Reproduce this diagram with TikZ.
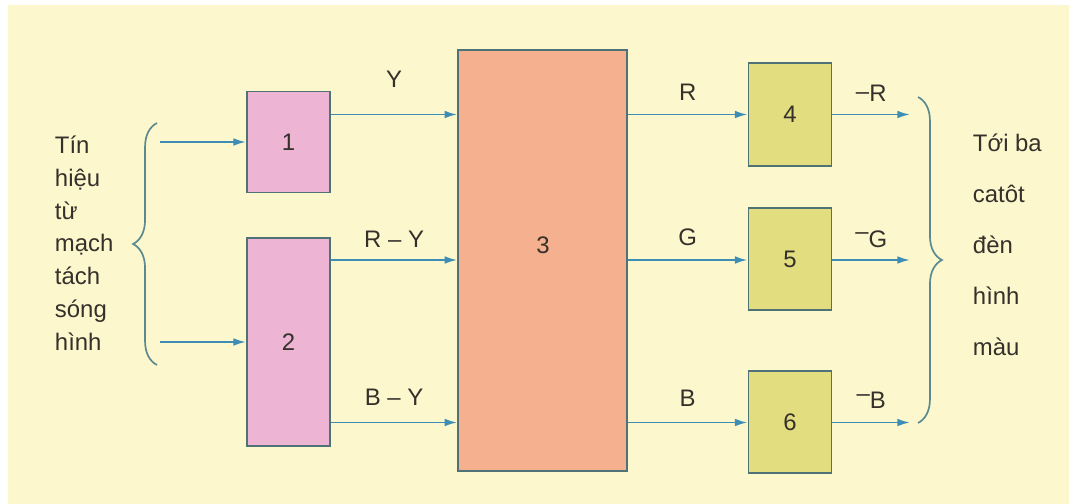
\documentclass[tikz,border=0pt]{standalone}
\usepackage{fontspec}
\setmainfont{Liberation Sans}
\usepackage{tikz}
\usetikzlibrary{arrows.meta}
\usetikzlibrary{decorations,decorations.pathreplacing}
\definecolor{creamback}{HTML}{FDF7CE}
\definecolor{pinkfill}{HTML}{EDB4D3}
\definecolor{salmonfill}{HTML}{F5B08F}
\definecolor{olivefill}{HTML}{E2DD7E}
\definecolor{wirecol}{HTML}{3D8DB5}
\definecolor{blockline}{HTML}{4F7276}
\definecolor{bracecol}{HTML}{5A8A90}
\definecolor{inkcol}{HTML}{35302A}
\tikzstyle{block}=[draw=blockline,line width=1.2pt,inner sep=0pt,minimum width=2.08cm]
\tikzstyle{inputshading}=[fill=pinkfill]
\tikzstyle{matrixshading}=[fill=salmonfill]
\tikzstyle{outputshading}=[fill=olivefill]
\tikzstyle{signal}=[draw=wirecol,line width=1.4pt,-{Latex[length=9pt,width=5.5pt]}]
\tikzstyle{curly}=[draw=bracecol,line width=1.2pt,decorate,decoration={brace,amplitude=17pt}]
\newcommand{\updash}{\raisebox{.3em}{--}}
\begin{document}
\begin{tikzpicture}[x=0.025cm,y=-0.025cm,font=\fontsize{17}{23}\selectfont,text=inkcol]
		\useasboundingbox (0,0) rectangle (1069,504);
		\fill[white] (0,0) rectangle (1069,504);
		\fill[creamback] (8,5) rectangle (1069,504);
		% blocks
		\node[block,inputshading,minimum height=2.52cm] (b1) at (288.5,142) {1};
		\node[block,inputshading,minimum height=5.2cm] (b2) at (288.5,342) {2};
		\node[block,matrixshading,minimum width=4.22cm,minimum height=10.52cm] (b3) at (542.5,260.5) {};
		\node (n3) at (543,245) {3};
		\node[block,outputshading,minimum height=2.57cm] (b4) at (790,114.5) {4};
		\node[block,outputshading,minimum height=2.55cm] (b5) at (790,259) {5};
		\node[block,outputshading,minimum height=2.55cm] (b6) at (790,422) {6};
		% rows
		\coordinate (rowA) at (0,114.5);
		\coordinate (rowB) at (0,260);
		\coordinate (rowC) at (0,422.5);
		\coordinate (in1) at (160,142);
		\coordinate (in2) at (160,342);
		\coordinate (out4) at (910,114.5);
		\coordinate (out5) at (910,260);
		\coordinate (out6) at (910,422.5);
		\draw[signal] (in1) -- (b1);
		\draw[signal] (in2) -- (b2);
		\draw[signal] (b1.east |- rowA) -- node[above=15pt] (lY) {Y} (b3.west |- rowA);
		\draw[signal] (b2.east |- rowB) -- node[above=5pt] (lRY) {R -- Y} (b3.west |- rowB);
		\draw[signal] (b2.east |- rowC) -- node[above=8pt] (lBY) {B -- Y} (b3.west |- rowC);
		\draw[signal] (b3.east |- rowA) -- node[above=6pt] (lR) {R} (b4);
		\draw[signal] (b3.east |- rowB) -- node[above=6pt] (lG) {G} (b5.west |- rowB);
		\draw[signal] (b3.east |- rowC) -- node[above=7pt] (lB) {B} (b6.west |- rowC);
		\draw[signal] (b4) -- node[above=5pt] (lnR) {\raisebox{.1em}{--}R} (out4);
		\draw[signal] (b5.east |- rowB) -- node[above=5pt] (lnG) {\updash G} (out5);
		\draw[signal] (b6.east |- rowC) -- node[above=6pt] (lnB) {\updash B} (out6);
		% braces and side texts
		\coordinate (lbtop) at (157,123);
		\coordinate (lbbot) at (157,365);
		\coordinate (rbtop) at (918,97);
		\coordinate (rbbot) at (918,423);
		\draw[curly] (lbbot) -- (lbtop);
		\draw[curly] (rbtop) -- (rbbot);
		\node[align=left,anchor=west,font=\fontsize{17}{23.3}\selectfont] (src) at (50,243) {Tín\\hiệu\\từ\\mạch\\tách\\sóng\\hình};
		\node[align=left,anchor=west,font=\fontsize{17}{36.2}\selectfont] (dest) at (968,245) {Tới ba\\catôt\\đèn\\hình\\màu};
	\end{tikzpicture}
\end{document}
